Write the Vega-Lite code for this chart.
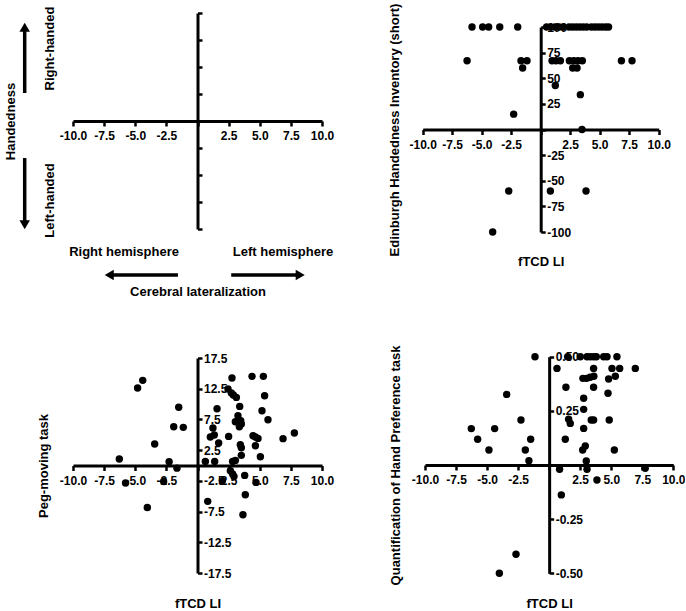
{
  "$schema": "https://vega.github.io/schema/vega-lite/v6.json",
  "background": "white",
  "padding": {"left": 4, "top": 3, "right": 0, "bottom": 0},
  "columns": 2,
  "spacing": {"row": 128, "column": 100},
  "bounds": "flush",
  "config": {
    "view": {"stroke": null},
    "axis": {
      "domainColor": "black", "domainWidth": 3, "tickColor": "black", "tickWidth": 2.5,
      "labelFont": "Liberation Sans", "labelFontWeight": "bold", "labelFontSize": 12, "labelColor": "black",
      "titleFont": "Liberation Sans", "titleFontWeight": "bold", "titleFontSize": 13, "titleColor": "black",
      "grid": false, "labelFlush": false, "labelOverlap": false, "labelBound": false, "titleBaseline": "middle"
    },
    "axisX": {"labelPadding": 4.5, "tickSize": 5},
    "axisY": {"labelPadding": 1.5, "tickSize": 4.5, "titleAngle": 270}
  },
  "concat": [
    {
      "width": 249, "height": 216,
      "encoding": {
        "x": {"field": "x", "type": "quantitative",
          "scale": {"domain": [-10, 10], "range": [0, 249], "nice": false, "zero": false},
          "axis": {"orient": "bottom", "offset": -108, "values": [-10, -7.5, -5, -2.5, 0, 2.5, 5, 7.5, 10],
            "labelExpr": "datum.value == 0 ? '' : replace(format(datum.value, '.1f'), '\u2212', '-')",
            "title": "Cerebral lateralization", "titleY": 170.5}},
        "y": {"field": "y", "type": "quantitative",
          "scale": {"domain": [-100, 100], "range": [216, 0], "nice": false, "zero": false},
          "axis": {"orient": "right", "offset": -124.5, "values": [-100, -75, -50, -25, 0, 25, 50, 75, 100],
            "labels": false, "title": "Handedness", "titleX": -186.8}}
      },
      "layer": [
        {
          "data": {"values": [
            {"x": -11.85, "y": 67.1, "label": "Right-handed"},
            {"x": -11.85, "y": -73.6, "label": "Left-handed"}
          ]},
          "mark": {"type": "text", "angle": 270, "font": "Liberation Sans", "fontWeight": "bold", "fontSize": 13, "align": "center", "baseline": "middle", "color": "black"},
          "encoding": {"text": {"field": "label"}}
        },
        {
          "data": {"values": [
            {"x": -5.9, "y": -121.3, "label": "Right hemisphere"},
            {"x": 6.87, "y": -121.3, "label": "Left hemisphere"}
          ]},
          "mark": {"type": "text", "font": "Liberation Sans", "fontWeight": "bold", "fontSize": 13, "align": "center", "baseline": "middle", "color": "black"},
          "encoding": {"text": {"field": "label"}}
        },
        {
          "data": {"values": [
            {"x": -13.88, "y": 25.9, "x2": -13.88, "y2": 86.85},
            {"x": -13.88, "y": -34.3, "x2": -13.88, "y2": -96.06},
            {"x": -1.57, "y": -142.6, "x2": -7.09, "y2": -142.6},
            {"x": 2.71, "y": -142.6, "x2": 8.25, "y2": -142.6}
          ]},
          "mark": {"type": "rule", "strokeWidth": 3.5, "color": "black", "strokeCap": "butt"},
          "encoding": {"x2": {"field": "x2"}, "y2": {"field": "y2"}}
        },
        {
          "data": {"values": [
            {"x": -13.88, "y": 86.85, "dir": "up"},
            {"x": -13.88, "y": -96.06, "dir": "down"},
            {"x": -7.09, "y": -142.6, "dir": "left"},
            {"x": 8.25, "y": -142.6, "dir": "right"}
          ]},
          "mark": {"type": "point", "filled": true, "size": 110, "color": "black", "opacity": 1},
          "encoding": {"shape": {"field": "dir", "type": "nominal",
            "scale": {"domain": ["up", "down", "left", "right"], "range": ["triangle-up", "triangle-down", "triangle-left", "triangle-right"]},
            "legend": null}}
        }
      ]
    },
    {
      "width": 249, "height": 216,
      "data": {"values": [
        {"li": -5.82, "v": 100}, {"li": -4.92, "v": 100}, {"li": -4.41, "v": 100}, {"li": -3.47, "v": 100}, {"li": -1.95, "v": 100},
        {"li": 0.5, "v": 100}, {"li": 0.85, "v": 100}, {"li": 1.2, "v": 100}, {"li": 1.55, "v": 100}, {"li": 1.9, "v": 100},
        {"li": 2.4, "v": 100}, {"li": 2.7, "v": 100}, {"li": 3.0, "v": 100}, {"li": 3.3, "v": 100}, {"li": 3.6, "v": 100},
        {"li": 3.9, "v": 100}, {"li": 4.3, "v": 100}, {"li": 4.6, "v": 100}, {"li": 4.9, "v": 100}, {"li": 5.2, "v": 100},
        {"li": 5.5, "v": 100}, {"li": 5.75, "v": 100},
        {"li": -6.24, "v": 67}, {"li": -1.67, "v": 67}, {"li": -1.16, "v": 67}, {"li": 0.96, "v": 67}, {"li": 1.3, "v": 67},
        {"li": 1.67, "v": 67}, {"li": 2.43, "v": 67}, {"li": 2.8, "v": 67}, {"li": 3.16, "v": 67}, {"li": 3.53, "v": 67},
        {"li": 6.84, "v": 67}, {"li": 7.74, "v": 67},
        {"li": -1.53, "v": 60}, {"li": 2.71, "v": 60}, {"li": 3.08, "v": 60},
        {"li": 1.24, "v": 43}, {"li": 3.36, "v": 34}, {"li": -2.29, "v": 15}, {"li": 3.5, "v": 0},
        {"li": -2.71, "v": -60}, {"li": 0.82, "v": -60}, {"li": 3.84, "v": -60}, {"li": -4.07, "v": -100}
      ]},
      "mark": {"type": "circle", "size": 55, "color": "black", "opacity": 1},
      "encoding": {
        "x": {"field": "li", "type": "quantitative",
          "scale": {"domain": [-10, 10], "range": [0.7, 236.7], "nice": false, "zero": false},
          "axis": {"orient": "bottom", "offset": -99.5, "values": [-10, -7.5, -5, -2.5, 0, 2.5, 5, 7.5, 10],
            "labelExpr": "datum.value == 0 ? '' : replace(format(datum.value, '.1f'), '\u2212', '-')",
            "title": "fTCD LI", "titleY": 131.5}},
        "y": {"field": "v", "type": "quantitative",
          "scale": {"domain": [-100, 100], "range": [219, 14], "nice": false, "zero": false},
          "axis": {"orient": "right", "offset": -130.3, "values": [-100, -75, -50, -25, 0, 25, 50, 75, 100],
            "labelExpr": "datum.value == 0 ? '' : replace(format(datum.value, 'd'), '\u2212', '-')",
            "title": "Edinburgh Handedness Inventory (short)", "titleX": -146.7}}
      }
    },
    {
      "width": 249, "height": 216,
      "data": {"values": [
        {"li": -4.81, "v": 12.62}, {"li": -4.4, "v": 13.86}, {"li": -1.51, "v": 9.47}, {"li": -1.91, "v": 6.32},
        {"li": -1.14, "v": 6.21}, {"li": -3.44, "v": 3.5}, {"li": -6.28, "v": 1.06}, {"li": -2.28, "v": 0.6},
        {"li": -1.65, "v": -0.43}, {"li": -5.78, "v": -2.85}, {"li": -2.72, "v": -2.6}, {"li": -4.03, "v": -6.84},
        {"li": 2.77, "v": 14.24}, {"li": 4.38, "v": 14.51}, {"li": 5.29, "v": 14.51}, {"li": 2.45, "v": 12.45},
        {"li": 2.72, "v": 11.79}, {"li": 2.88, "v": 11.47}, {"li": 3.12, "v": 11.09}, {"li": 5.39, "v": 11.36},
        {"li": 1.57, "v": 9.24}, {"li": 3.39, "v": 9.62}, {"li": 5.18, "v": 8.92}, {"li": 3.25, "v": 8.11},
        {"li": 3.04, "v": 7.13}, {"li": 3.47, "v": 7.29}, {"li": 3.52, "v": 6.75}, {"li": 3.36, "v": 6.31},
        {"li": 5.66, "v": 7.45}, {"li": 1.24, "v": 6.1}, {"li": 1.03, "v": 4.63}, {"li": 1.35, "v": 4.96},
        {"li": 2.5, "v": 4.74}, {"li": 4.46, "v": 4.85}, {"li": 4.65, "v": 4.63}, {"li": 4.86, "v": 4.41},
        {"li": 1.7, "v": 3.66}, {"li": 3.44, "v": 3.39}, {"li": 3.52, "v": 2.9}, {"li": 4.65, "v": 3.22},
        {"li": 6.87, "v": 4.37}, {"li": 7.78, "v": 5.29}, {"li": 3.52, "v": 1.65}, {"li": 5.05, "v": 1.43},
        {"li": 0.63, "v": 0.67}, {"li": 1.38, "v": 0.67}, {"li": 2.82, "v": 0.67}, {"li": 3.04, "v": 0.83},
        {"li": 2.64, "v": -0.85}, {"li": 2.82, "v": -1.39}, {"li": 2.93, "v": -1.8}, {"li": 3.79, "v": -1.61},
        {"li": 2.0, "v": -2.5}, {"li": 4.7, "v": -2.75}, {"li": 3.84, "v": -4.76}, {"li": 0.82, "v": -5.84},
        {"li": 3.65, "v": -8.01}
      ]},
      "mark": {"type": "circle", "size": 55, "color": "black", "opacity": 1},
      "encoding": {
        "x": {"field": "li", "type": "quantitative",
          "scale": {"domain": [-10, 10], "range": [0, 249], "nice": false, "zero": false},
          "axis": {"orient": "bottom", "offset": -107.5, "values": [-10, -7.5, -5, -2.5, 0, 2.5, 5, 7.5, 10],
            "labelExpr": "datum.value == 0 ? '' : replace(format(datum.value, '.1f'), '\u2212', '-')",
            "title": "fTCD LI", "titleY": 137.5}},
        "y": {"field": "v", "type": "quantitative",
          "scale": {"domain": [-17.5, 17.5], "range": [216, 1], "nice": false, "zero": false},
          "axis": {"orient": "right", "offset": -124.5, "values": [-17.5, -12.5, -7.5, -2.5, 2.5, 7.5, 12.5, 17.5],
            "labelExpr": "replace(format(datum.value, '.1f'), '\u2212', '-')",
            "title": "Peg-moving task", "titleX": -154}}
      }
    },
    {
      "width": 249, "height": 216,
      "data": {"values": [
        {"li": -1.14, "v": 0.5}, {"li": -3.42, "v": 0.326}, {"li": -2.27, "v": 0.208}, {"li": -6.27, "v": 0.168},
        {"li": -4.39, "v": 0.168}, {"li": -5.76, "v": 0.119}, {"li": -1.49, "v": 0.119}, {"li": -4.85, "v": 0.069},
        {"li": -1.92, "v": 0.069}, {"li": -1.63, "v": 0.02}, {"li": -2.67, "v": -0.412}, {"li": -4.01, "v": -0.5},
        {"li": 1.49, "v": 0.5}, {"li": 2.51, "v": 0.5}, {"li": 3.05, "v": 0.5}, {"li": 3.31, "v": 0.5}, {"li": 3.58, "v": 0.5},
        {"li": 3.8, "v": 0.5}, {"li": 4.39, "v": 0.5}, {"li": 4.66, "v": 0.5}, {"li": 5.46, "v": 0.5},
        {"li": 0.63, "v": 0.446}, {"li": 3.58, "v": 0.446}, {"li": 5.06, "v": 0.446}, {"li": 5.68, "v": 0.446}, {"li": 6.94, "v": 0.446},
        {"li": 2.72, "v": 0.4}, {"li": 3.02, "v": 0.4}, {"li": 3.3, "v": 0.405}, {"li": 3.6, "v": 0.41}, {"li": 4.79, "v": 0.397}, {"li": 5.33, "v": 0.41},
        {"li": 1.35, "v": 0.359}, {"li": 3.58, "v": 0.359}, {"li": 4.74, "v": 0.331}, {"li": 2.78, "v": 0.308},
        {"li": 2.78, "v": 0.257}, {"li": 1.57, "v": 0.211}, {"li": 1.7, "v": 0.192}, {"li": 3.39, "v": 0.208},
        {"li": 3.58, "v": 0.208}, {"li": 4.84, "v": 0.208}, {"li": 2.78, "v": 0.169}, {"li": 1.3, "v": 0.119},
        {"li": 2.91, "v": 0.088}, {"li": 2.7, "v": 0.069}, {"li": 5.25, "v": 0.069}, {"li": 2.99, "v": 0.019},
        {"li": 0.84, "v": -0.02}, {"li": 3.05, "v": -0.02}, {"li": 7.74, "v": -0.015}, {"li": 3.85, "v": -0.069},
        {"li": 0.98, "v": -0.138}
      ]},
      "mark": {"type": "circle", "size": 55, "color": "black", "opacity": 1},
      "encoding": {
        "x": {"field": "li", "type": "quantitative",
          "scale": {"domain": [-10, 10], "range": [3, 251.3], "nice": false, "zero": false},
          "axis": {"orient": "bottom", "offset": -108, "values": [-10, -7.5, -5, -2.5, 0, 2.5, 5, 7.5, 10],
            "labelExpr": "datum.value == 0 ? '' : replace(format(datum.value, '.1f'), '\u2212', '-')",
            "title": "fTCD LI", "titleY": 138}},
        "y": {"field": "v", "type": "quantitative",
          "scale": {"domain": [-0.5, 0.5], "range": [216.3, -0.3], "nice": false, "zero": false},
          "axis": {"orient": "right", "offset": -121.85, "values": [-0.5, -0.25, 0, 0.25, 0.5],
            "labelExpr": "datum.value == 0 ? '' : replace(format(datum.value, '.2f'), '\u2212', '-')",
            "title": "Quantification of Hand Preference task", "titleX": -153.65}}
      }
    }
  ]
}
